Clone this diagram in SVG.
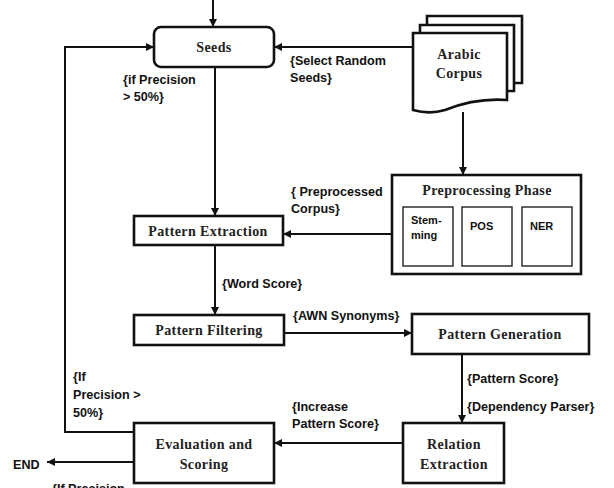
<svg xmlns="http://www.w3.org/2000/svg" width="614" height="488" viewBox="0 0 614 488">
<defs>
<marker id="ahs" viewBox="0 0 10 10" refX="10" refY="5" markerWidth="4" markerHeight="4" orient="auto">
<path d="M0,0 L10,5 L0,10 z" fill="#111"/>
</marker>
</defs>
<style>
.box{fill:#fff;stroke:#111;stroke-width:2.6}
.inner{fill:#fff;stroke:#222;stroke-width:1.4}
.node{font-family:"Liberation Serif","Times New Roman",serif;font-weight:bold;font-size:14px;fill:#222;text-anchor:middle;letter-spacing:0.4px}
.lbl{font-family:"Liberation Sans",Arial,sans-serif;font-weight:bold;font-size:12.6px;fill:#111}
.sm{font-size:11px}
.edge{fill:none;stroke:#111;stroke-width:2;marker-end:url(#ahs)}
</style>
<rect width="614" height="488" fill="#fff"/>

<g id="connectors">
<path class="edge" d="M213,0 V27"/>
<path class="edge" d="M134,432 H65 V47 H154"/>
<path class="edge" d="M413,47 H274"/>
<path class="edge" d="M215,67 V216"/>
<path class="edge" d="M463,112 V175"/>
<path class="edge" d="M392,234 H283"/>
<path class="edge" d="M215,245 V315"/>
<path class="edge" d="M284,333 H412"/>
<path class="edge" d="M462,354 V423"/>
<path class="edge" d="M403,443 H274"/>
<path class="edge" d="M134,462 H47"/>
</g>

<g id="seeds">
<rect class="box" x="154" y="27" width="120" height="40" rx="7"/>
<text class="node" x="214" y="52">Seeds</text>
</g>

<g id="arabic-corpus">
<path class="box" d="M427,16 H522 V83 H427 z"/>
<path class="box" d="M420,25 H514 V91 H420 z"/>
<path class="box" d="M413,33 H507 V100 C480,98 460,104 445,110 C432,114 420,112 413,110 z"/>
<text class="node" x="459" y="59">Arabic</text>
<text class="node" x="459" y="78">Corpus</text>
</g>

<g id="preprocessing">
<rect class="box" x="392" y="175" width="189" height="99"/>
<text class="node" x="487" y="195">Preprocessing Phase</text>
<rect class="inner" x="403" y="207" width="50" height="59"/>
<rect class="inner" x="462" y="207" width="50" height="59"/>
<rect class="inner" x="522" y="207" width="50" height="59"/>
<text class="lbl sm" x="411" y="224">Stem-</text>
<text class="lbl sm" x="411" y="239">ming</text>
<text class="lbl sm" x="470" y="230">POS</text>
<text class="lbl sm" x="530" y="230">NER</text>
</g>

<g id="pattern-extraction">
<rect class="box" x="134" y="216" width="149" height="29"/>
<text class="node" x="208" y="236">Pattern Extraction</text>
</g>

<g id="pattern-filtering">
<rect class="box" x="134" y="315" width="150" height="30"/>
<text class="node" x="209" y="335">Pattern Filtering</text>
</g>

<g id="pattern-generation">
<rect class="box" x="412" y="314" width="177" height="40"/>
<text class="node" x="500" y="339">Pattern Generation</text>
</g>

<g id="relation-extraction">
<rect class="box" x="403" y="423" width="101" height="60"/>
<text class="node" x="454" y="449">Relation</text>
<text class="node" x="454" y="469">Extraction</text>
</g>

<g id="evaluation">
<rect class="box" x="134" y="423" width="140" height="60"/>
<text class="node" x="204" y="449">Evaluation and</text>
<text class="node" x="204" y="469">Scoring</text>
</g>

<g id="labels">
<text class="lbl" x="123" y="84">{if Precision</text>
<text class="lbl" x="123" y="101">&gt; 50%}</text>
<text class="lbl" x="290" y="65">{Select Random</text>
<text class="lbl" x="290" y="82">Seeds}</text>
<text class="lbl" x="291" y="196">{ Preprocessed</text>
<text class="lbl" x="291" y="213">Corpus}</text>
<text class="lbl" x="222" y="288">{Word Score}</text>
<text class="lbl" x="293" y="320">{AWN Synonyms}</text>
<text class="lbl" x="467" y="383">{Pattern Score}</text>
<text class="lbl" x="467" y="411">{Dependency Parser}</text>
<text class="lbl" x="292" y="411">{Increase</text>
<text class="lbl" x="292" y="428">Pattern Score}</text>
<text class="lbl" x="73" y="381">{If</text>
<text class="lbl" x="73" y="399">Precision &gt;</text>
<text class="lbl" x="73" y="417">50%}</text>
<text class="lbl" x="13" y="469">END</text>
<text class="lbl" x="52" y="493">{If Precision</text>
</g>
</svg>
